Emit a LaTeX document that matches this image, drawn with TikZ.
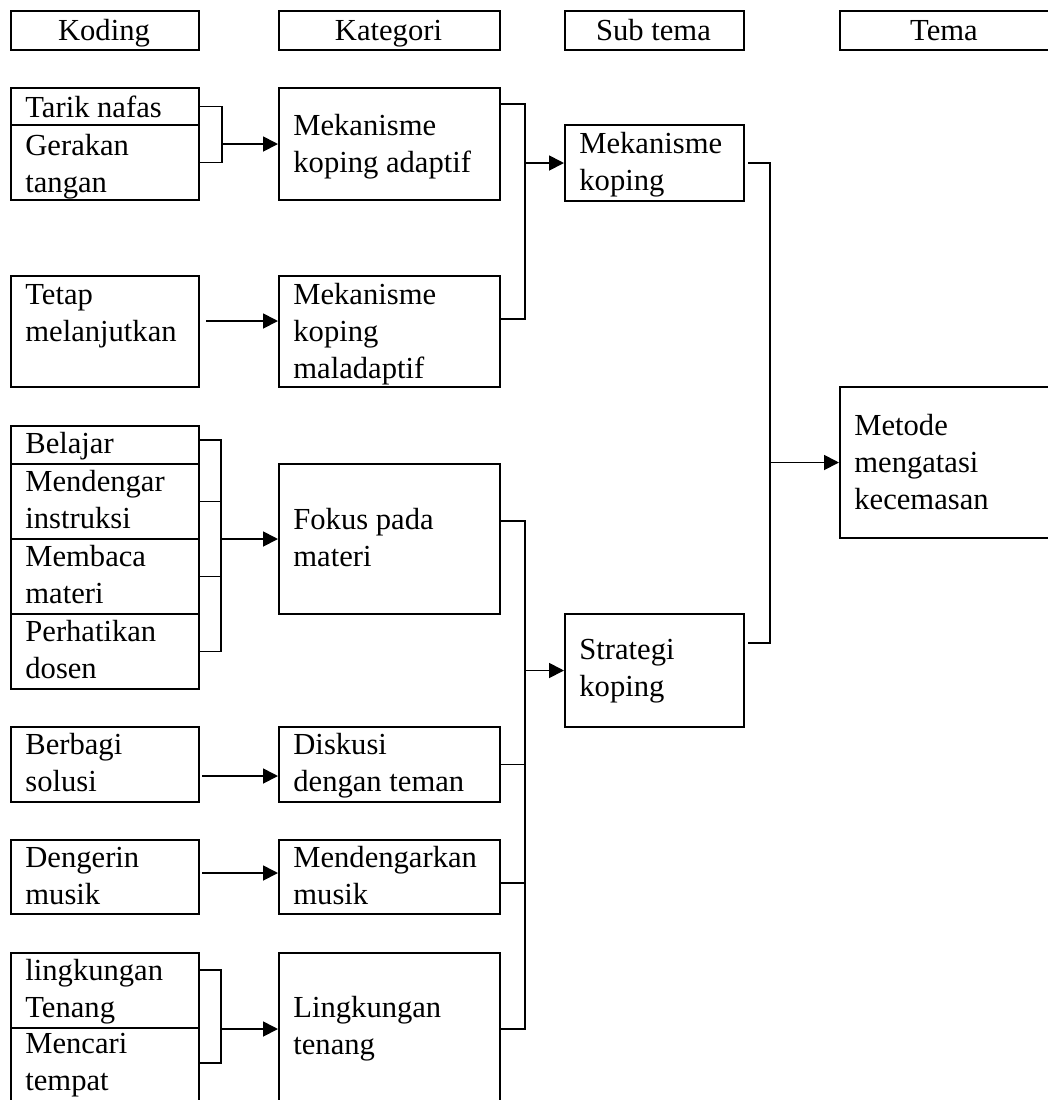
\documentclass[tikz,border=0pt]{standalone}
\usepackage{fontspec}
\setmainfont{Liberation Serif}
\usetikzlibrary{arrows.meta,calc}

% one unit = one pixel of a 1048 x 1100 page, y growing downwards
\tikzset{
  box/.style={draw, line width=1pt, rectangle, inner sep=0pt, anchor=north west},
  lbl/.style={inner sep=0pt, anchor=base west, font=\fontsize{15.3pt}{18.5pt}\selectfont},
  hlbl/.style={inner sep=0pt, anchor=base, font=\fontsize{15.3pt}{18.5pt}\selectfont},
  link/.style={line width=0.9pt},
  arr/.style={link, -{Triangle[length=7.5pt,width=7.5pt]}},
}

% \kotak{name}{x1}{y1}{x2}{y2}{first baseline}{lines}
\newcommand\kotak[7]{%
  \node[box, minimum width={(#4-#2)*0.5pt}, minimum height={(#5-#3)*0.5pt}] (#1) at (#2,#3) {};
  \node[lbl] (#1-t) at (#2+15,#6) {\begin{tabular}[t]{@{}l@{}}#7\end{tabular}};
}
% \judul{name}{x1}{x2}{text}: column heading
\newcommand\judul[4]{%
  \node[box, minimum width={(#3-#2)*0.5pt}, minimum height={39*0.5pt}] (#1) at (#2,10) {};
  \node[hlbl] (#1-t) at ({(#2+#3)/2},40) {#4};
}

\begin{document}
\begin{tikzpicture}[x=0.5pt, y=-0.5pt]
\useasboundingbox (0,0) rectangle (1048,1100);
\fill[white] (0,0) rectangle (1048,1100);
\clip (0,0) rectangle (1048,1100);

% column headings
\judul{hkod}{10}{198}{Koding}
\judul{hkat}{278}{499}{Kategori}
\judul{hsub}{564}{743}{Sub tema}
\judul{htema}{839}{1049}{Tema}

% coding column
\kotak{tarik}{10}{87}{198}{124}{117}{Tarik nafas}
\kotak{gerakan}{10}{124}{198}{199}{155}{Gerakan\\tangan}
\kotak{tetap}{10}{275}{198}{386}{304}{Tetap\\melanjutkan}
\kotak{belajar}{10}{425}{198}{463}{453}{Belajar}
\kotak{mendengar}{10}{463}{198}{538}{491}{Mendengar\\instruksi}
\kotak{membaca}{10}{538}{198}{613}{566}{Membaca\\materi}
\kotak{perhatikan}{10}{613}{198}{688}{641}{Perhatikan\\dosen}
\kotak{berbagi}{10}{726}{198}{801}{754}{Berbagi\\solusi}
\kotak{dengerin}{10}{839}{198}{913}{867}{Dengerin\\musik}
\kotak{lingk}{10}{952}{198}{1027}{980}{lingkungan\\Tenang}
\kotak{mencari}{10}{1027}{198}{1110}{1053}{Mencari\\tempat}

% category column
\kotak{adaptif}{278}{87}{499}{199}{135}{Mekanisme\\koping adaptif}
\kotak{maladaptif}{278}{275}{499}{386}{304}{Mekanisme\\koping\\maladaptif}
\kotak{fokus}{278}{463}{499}{613}{529}{Fokus pada\\materi}
\kotak{diskusi}{278}{726}{499}{801}{754}{Diskusi\\dengan teman}
\kotak{musik}{278}{839}{499}{913}{867}{Mendengarkan\\musik}
\kotak{tenang}{278}{952}{499}{1110}{1017}{Lingkungan\\tenang}

% sub-theme column
\kotak{subkop}{564}{124}{743}{200}{153}{Mekanisme\\koping}
\kotak{strategi}{564}{613}{743}{726}{659}{Strategi\\koping}

% theme column
\kotak{metode}{839}{386}{1049}{537}{435}{Metode\\mengatasi\\kecemasan}

% x positions of the bracket spines
\coordinate (k1) at (222,0);
\coordinate (k3) at (221,0);
\coordinate (r1) at (525,0);
\coordinate (r2) at (770,0);

% coding -> category
\draw[link] (tarik.east) -| (k1 |- gerakan.east) -- (gerakan.east);
\draw[arr] (k1 |- adaptif.west) -- (adaptif.west);

\draw[arr] ($(tetap.east)+(6,-10.5)$) -- ($(maladaptif.west)+(0,-10.5)$);

\coordinate (b1) at ($(belajar.east)+(0,-5)$);
\draw[link] (b1) -| (k3 |- perhatikan.east) -- (perhatikan.east);
\draw[link] (mendengar.east) -- (k3 |- mendengar.east);
\draw[link] (membaca.east) -- (k3 |- membaca.east);
\draw[arr] (k3 |- fokus.west) -- (fokus.west);

\draw[arr] ($(berbagi.east)+(2,11.5)$) -- ($(diskusi.west)+(0,11.5)$);
\draw[arr] ($(dengerin.east)+(2,-4)$) -- ($(musik.west)+(0,-4)$);

\coordinate (q1) at ($(lingk.north east)+(0,18)$);
\coordinate (q2) at ($(mencari.north east)+(0,36)$);
\draw[link] (q1) -| (k3 |- q2) -- (q2);
\draw[arr] (k3 |- lingk.south) -- (tenang.west |- lingk.south);

% category -> sub-theme
\coordinate (p1) at ($(adaptif.north east)+(0,17)$);
\coordinate (p2) at ($(maladaptif.north east)+(0,44)$);
\draw[link] (p1) -| (r1 |- p2) -- (p2);
\draw[arr] (r1 |- subkop.west) -- (subkop.west);

\coordinate (p4) at ($(fokus.north east)+(0,58)$);
\coordinate (p5) at ($(musik.east)+(0,6)$);
\coordinate (p6) at (tenang.east |- lingk.south);
\draw[link] (p4) -| (r1 |- p6) -- (p6);
\draw[link] (diskusi.east) -- (r1 |- diskusi.east);
\draw[link] (p5) -- (r1 |- p5);
\draw[arr] (r1 |- strategi.west) -- (strategi.west);

% sub-theme -> theme
\coordinate (p3) at ($(strategi.north east)+(0,30)$);
\draw[link] ($(subkop.east)+(3,0)$) -| (r2 |- p3) -- ($(p3)+(3,0)$);
\draw[arr] (r2 |- metode.west) -- (metode.west);
\end{tikzpicture}
\end{document}
